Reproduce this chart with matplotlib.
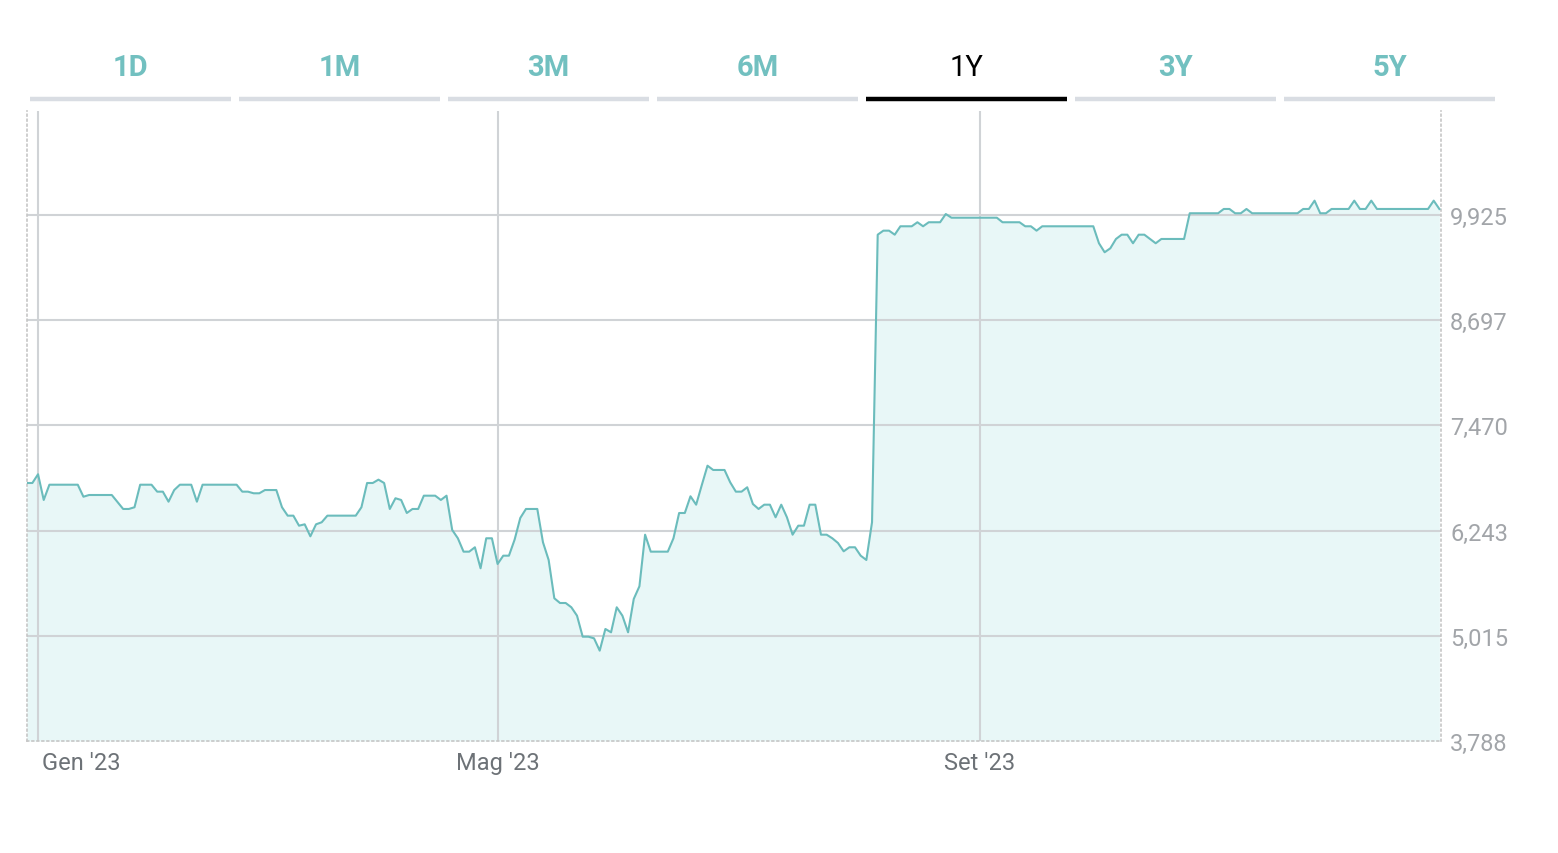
import matplotlib
matplotlib.use("Agg")
import matplotlib.pyplot as plt
from matplotlib.transforms import ScaledTranslation

# tabs above the chart
tab_labels = ["1D", "1M", "3M", "6M", "1Y", "3Y", "5Y"]
active_tab = "1Y"

# y axis ticks (price levels shown on the right)
y_ticks = [3788, 5015, 6243, 7470, 8697, 9925]
y_top = 11138

# x axis: trading-day index of the month labels
x_tick_idx = [2, 83, 168]
x_tick_labels = ["Gen '23", "Mag '23", "Set '23"]
n_days = 250

# trading-day index of each vertex of the line, and the price there
day_idx = [0, 1, 2, 3, 4, 9, 10, 11, 15, 17, 18, 19, 20, 22, 23, 24, 25, 26, 27, 29,
           30, 31, 37, 38, 39, 40, 41, 42, 44, 45, 46, 47, 48, 49, 50, 51, 52, 53, 58, 59,
           60, 61, 62, 63, 64, 65, 66, 67, 68, 69, 70, 72, 73, 74, 75, 76, 77, 78, 79, 80,
           81, 82, 83, 84, 85, 86, 87, 88, 90, 91, 92, 93, 94, 95, 96, 97, 98, 99, 100, 101,
           102, 103, 104, 105, 106, 107, 108, 109, 110, 113, 114, 115, 116, 117, 118, 119, 120, 121, 123, 124,
           125, 126, 127, 128, 129, 130, 131, 132, 133, 134, 135, 136, 137, 138, 139, 140, 141, 142, 143, 144,
           145, 146, 147, 148, 149, 150, 151, 152, 153, 154, 156, 157, 158, 159, 161, 162, 163, 171, 172, 175,
           176, 177, 178, 179, 188, 189, 190, 191, 192, 193, 194, 195, 196, 197, 198, 199, 200, 204, 205, 210,
           211, 212, 213, 214, 215, 216, 224, 225, 226, 227, 228, 229, 230, 233, 234, 235, 236, 237, 238, 247,
           248, 249]
price = [6798, 6798, 6900, 6600, 6778, 6778, 6638, 6658, 6658, 6495, 6495, 6515, 6778, 6778, 6697, 6697, 6580, 6716, 6778, 6778,
         6580, 6778, 6778, 6697, 6697, 6678, 6678, 6716, 6716, 6515, 6417, 6417, 6300, 6316, 6176, 6316, 6340, 6417, 6417, 6515,
         6798, 6798, 6837, 6798, 6495, 6620, 6600, 6448, 6495, 6495, 6650, 6650, 6600, 6650, 6250, 6153, 5997, 5997, 6048, 5803,
         6153, 6153, 5853, 5950, 5950, 6137, 6390, 6495, 6495, 6106, 5900, 5453, 5398, 5398, 5348, 5250, 5005, 5005, 4986, 4842,
         5095, 5056, 5348, 5250, 5056, 5445, 5593, 6195, 5997, 5997, 6153, 6448, 6448, 6643, 6545, 6775, 7000, 6950, 6950, 6806,
         6697, 6697, 6748, 6553, 6495, 6545, 6545, 6398, 6545, 6398, 6195, 6300, 6300, 6545, 6545, 6195, 6195, 6153, 6098, 6001,
         6048, 6048, 5950, 5900, 6340, 9695, 9742, 9742, 9695, 9793, 9793, 9840, 9793, 9840, 9840, 9936, 9893, 9893, 9840, 9840,
         9793, 9793, 9742, 9793, 9793, 9595, 9490, 9536, 9645, 9695, 9695, 9595, 9695, 9695, 9645, 9595, 9645, 9645, 9945, 9945,
         9995, 9995, 9945, 9945, 9995, 9945, 9945, 9995, 9995, 10092, 9945, 9945, 9995, 9995, 10092, 9995, 9995, 10092, 9995, 9995,
         10092, 9995]

W, H = 1558, 854
line_color = "#6bbcbc"
fill_color = "#e8f7f7"
grid_color = "#d0d3d6"
teal_text = "#72c0c0"

plt.rcParams["font.family"] = ["Roboto", "DejaVu Sans"]

fig = plt.figure(figsize=(W / 100, H / 100), dpi=100)

# main chart axes, placed in pixels
left, right, top, bottom = 26.7, 1440.5, 112, 742
ax = fig.add_axes([left / W, 1 - bottom / H, (right - left) / W, (bottom - top) / H])

ax.fill_between(day_idx, price, y_ticks[0], color=fill_color, lw=0, zorder=1)
ax.plot(day_idx, price, color=line_color, lw=1.5, zorder=3)

ax.set_xlim(0, n_days - 1 + 0.2)
ax.set_ylim(y_ticks[0], y_top)

# gridlines
for y in y_ticks[1:]:
    ax.axhline(y, color=grid_color, lw=1.5, zorder=2)
for x in x_tick_idx:
    ax.axvline(x, color=grid_color, lw=1.5, zorder=2)

ax.spines["top"].set_visible(False)
for side in ["left", "right", "bottom"]:
    ax.spines[side].set_linestyle((0, (1, 2)))
    ax.spines[side].set_color("#c6c6c6")
    ax.spines[side].set_linewidth(1.2)

ax.yaxis.tick_right()
ax.set_yticks(y_ticks)
ax.set_yticklabels(["{:,}".format(v) for v in y_ticks], color="#a2a5a9", fontsize=17)
ax.tick_params(axis="y", length=0, pad=7)

ax.set_xticks(x_tick_idx)
ax.set_xticklabels(x_tick_labels, color="#6d7277", fontsize=17)
ax.tick_params(axis="x", length=0, pad=7)
first = ax.get_xticklabels()[0]
first.set_horizontalalignment("left")
first.set_transform(first.get_transform() + ScaledTranslation(0.04, 0, fig.dpi_scale_trans))

# tabs row on an overlay in pixel coordinates
over = fig.add_axes([0, 0, 1, 1], zorder=5)
over.set_xlim(0, W)
over.set_ylim(H, 0)
over.axis("off")
over.patch.set_alpha(0)

tab_x0 = 30
tab_w = 201
tab_gap = 8
for i, lab in enumerate(tab_labels):
    x0 = tab_x0 + i * (tab_w + tab_gap)
    x1 = x0 + tab_w
    if i == len(tab_labels) - 1:
        x1 = 1495
    active = lab == active_tab
    over.plot([x0, x1], [100, 100], color="black" if active else "#d9dde3",
              lw=3.2, solid_capstyle="butt")
    over.text((x0 + x1) / 2, 68, lab, ha="center", va="center", fontsize=21,
              color="black" if active else teal_text,
              fontweight="normal" if active else "bold")

fig.savefig("out.png", dpi=100)
